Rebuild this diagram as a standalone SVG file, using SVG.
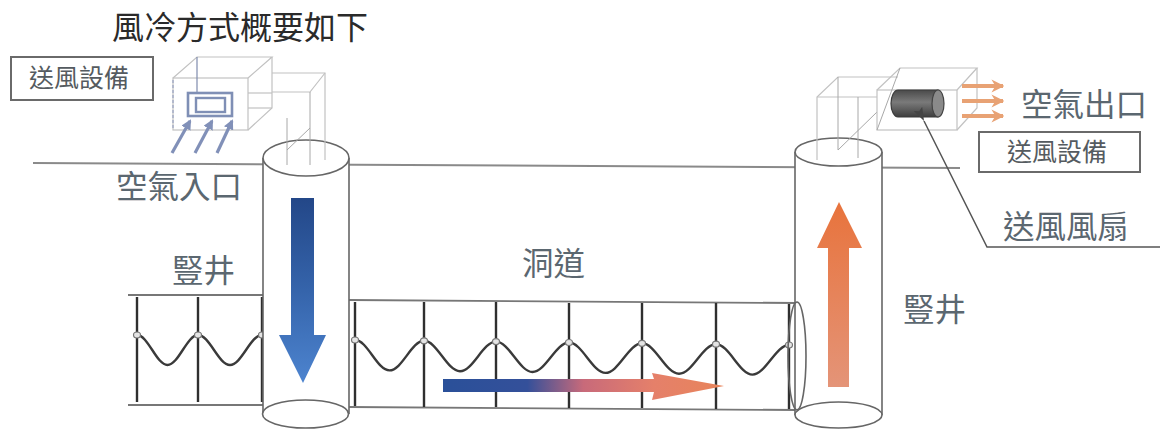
<svg xmlns="http://www.w3.org/2000/svg" width="1169" height="432" viewBox="0 0 1169 432">
  <defs>
    <style>
      .title { font-family: "Noto Sans CJK TC", "Noto Sans CJK SC", sans-serif; font-size: 32px; fill: #2a2a2a; }
      .label { font-family: "Noto Sans CJK TC", "Noto Sans CJK SC", sans-serif; font-size: 31.5px; fill: #5b6770; }
      .boxlabel { font-family: "Noto Sans CJK TC", "Noto Sans CJK SC", sans-serif; font-size: 25px; fill: #555b60; }
      .box { fill: #fff; stroke: #6a6a6a; stroke-width: 2; }
      .wire { fill: none; stroke: #c2c2c2; stroke-width: 1.2; }
      .wire2 { fill: none; stroke: #a8a8a8; stroke-width: 1; }
      .shaft { fill: #fff; stroke: #666; stroke-width: 1.6; }
      .rail { fill: none; stroke: #777; stroke-width: 1.8; }
      .post { fill: none; stroke: #2f2f2f; stroke-width: 2.4; }
      .wave { fill: none; stroke: #3a3a3a; stroke-width: 2.4; }
      .node { fill: #e4e4e4; stroke: #777; stroke-width: 1.2; }
      .inflow { fill: none; stroke: #8190b8; stroke-width: 3.2; }
      .outflow { fill: none; stroke: #e8a274; stroke-width: 4; }
    </style>
    <linearGradient id="gDown" x1="0" y1="0" x2="0" y2="1">
      <stop offset="0" stop-color="#234788"/>
      <stop offset="0.5" stop-color="#3564ab"/>
      <stop offset="1" stop-color="#4d84cf"/>
    </linearGradient>
    <linearGradient id="gUp" x1="0" y1="0" x2="0" y2="1">
      <stop offset="0" stop-color="#e8733c"/>
      <stop offset="1" stop-color="#e49478"/>
    </linearGradient>
    <linearGradient id="gFlow" x1="443" y1="0" x2="724" y2="0" gradientUnits="userSpaceOnUse">
      <stop offset="0" stop-color="#2a5099"/>
      <stop offset="0.3" stop-color="#34509a"/>
      <stop offset="0.5" stop-color="#c86a7a"/>
      <stop offset="0.75" stop-color="#e5806a"/>
      <stop offset="1" stop-color="#e8845a"/>
    </linearGradient>
    <linearGradient id="gFan" x1="0" y1="0" x2="0" y2="1">
      <stop offset="0" stop-color="#4a4a4a"/>
      <stop offset="0.45" stop-color="#7a7a7a"/>
      <stop offset="1" stop-color="#3e3e3e"/>
    </linearGradient>
    <marker id="mIn" viewBox="0 0 10 10" refX="8" refY="5" markerWidth="3.2" markerHeight="3.2" orient="auto">
      <path d="M0,0 L10,5 L0,10 Z" fill="#8190b8"/>
    </marker>
    <marker id="mOut" viewBox="0 0 10 10" refX="9" refY="5" markerWidth="3.2" markerHeight="3.6" orient="auto">
      <path d="M0,0 L10,5 L0,10 L3,5 Z" fill="#e8a274"/>
    </marker>
    <marker id="mLead" viewBox="0 0 10 10" refX="0" refY="5" markerWidth="9" markerHeight="9" orient="auto-start-reverse">
      <path d="M0,5 L10,1.5 L8,5 L10,8.5 Z" fill="#444"/>
    </marker>
  </defs>

  <rect width="1169" height="432" fill="#fff"/>

  <!-- heading -->
  <text class="title" x="112" y="39">風冷方式概要如下</text>

  <!-- ground level -->
  <line x1="33" y1="163" x2="960" y2="168" stroke="#8a8a8a" stroke-width="2"/>

  <!-- left tunnel stub -->
  <g id="tunnel-left">
    <line class="rail" x1="128" y1="295" x2="263" y2="295"/>
    <line class="rail" x1="128" y1="405" x2="263" y2="405"/>
    <line class="post" x1="137" y1="297" x2="137" y2="402"/>
    <line class="post" x1="198" y1="297" x2="198" y2="402"/>
    <line class="post" x1="262" y1="297" x2="262" y2="402"/>
    <path class="wave" d="M137,335 C148,335 156.5,365 167.5,365 C178.5,365 187,335 198,335 C209.5,335 218.5,365 230,365 C241.5,365 250.5,335 262,335"/>
    <ellipse class="node" cx="137" cy="335" rx="3.5" ry="3"/>
    <ellipse class="node" cx="198" cy="335" rx="3.5" ry="3"/>
    <ellipse class="node" cx="262" cy="335" rx="3.5" ry="3"/>
  </g>

  <!-- main tunnel -->
  <g id="tunnel-main">
    <line class="rail" x1="349" y1="300" x2="797" y2="303"/>
    <line class="rail" x1="349" y1="407" x2="797" y2="410"/>
    <line class="post" x1="355" y1="302" x2="355" y2="406"/>
    <line class="post" x1="424" y1="302" x2="424" y2="407"/>
    <line class="post" x1="496" y1="302" x2="496" y2="407"/>
    <line class="post" x1="569" y1="303" x2="569" y2="408"/>
    <line class="post" x1="642" y1="303" x2="642" y2="408"/>
    <line class="post" x1="716" y1="303" x2="716" y2="409"/>
    <line class="post" x1="789" y1="304" x2="789" y2="409"/>
    <path class="wave" d="M355,340 C367.5,340 377,370.4 389.5,370.4 C402,370.4 411.5,340.8 424,340.8 C437,340.8 447,371.2 460,371.2 C473,371.2 483,341.6 496,341.6 C509,341.6 519.5,372 532.5,372 C545.5,372 556,342.5 569,342.5 C582,342.5 592.5,372.9 605.5,372.9 C618.5,372.9 629,343.3 642,343.3 C655.5,343.3 665.5,373.7 679,373.7 C692.5,373.7 702.5,344.2 716,344.2 C729,344.2 739.5,374.6 752.5,374.6 C765.5,374.6 776,345 789,345"/>
    <ellipse class="node" cx="355" cy="340" rx="3.5" ry="3"/>
    <ellipse class="node" cx="424" cy="340.8" rx="3.5" ry="3"/>
    <ellipse class="node" cx="496" cy="341.6" rx="3.5" ry="3"/>
    <ellipse class="node" cx="569" cy="342.5" rx="3.5" ry="3"/>
    <ellipse class="node" cx="642" cy="343.3" rx="3.5" ry="3"/>
    <ellipse class="node" cx="716" cy="344.2" rx="3.5" ry="3"/>
    <ellipse class="node" cx="789" cy="345" rx="3.5" ry="3"/>
    <!-- horizontal airflow -->
    <path d="M443,379 L654,379 L652,373 L724,386 L652,400 L654,392 L443,392 Z" fill="url(#gFlow)"/>
  </g>

  <!-- intake shaft -->
  <g id="shaft-left">
    <rect x="263" y="158" width="86" height="256" fill="#fff"/>
    <line class="shaft" x1="263" y1="158" x2="263" y2="414"/>
    <line class="shaft" x1="349" y1="158" x2="349" y2="414"/>
    <ellipse class="shaft" cx="306" cy="158" rx="43" ry="18"/>
    <ellipse class="shaft" cx="305.5" cy="414" rx="43" ry="14"/>
    <path d="M291,198 L314,198 L314,335 L326,335 L303,383 L279,335 L291,335 Z" fill="url(#gDown)"/>
  </g>

  <!-- exhaust shaft -->
  <g id="shaft-right">
    <rect x="795" y="152" width="87" height="263" fill="#fff"/>
    <line class="shaft" x1="795" y1="152" x2="795" y2="415"/>
    <line class="shaft" x1="882" y1="152" x2="882" y2="415"/>
    <ellipse class="shaft" cx="838.5" cy="152" rx="43.5" ry="14"/>
    <ellipse class="shaft" cx="838.5" cy="415" rx="43.5" ry="13"/>
    <path d="M828,387 L849,387 L849,248 L862,248 L839,202 L817,248 L828,248 Z" fill="url(#gUp)"/>
  </g>

  <!-- end of main tunnel joining the exhaust shaft -->
  <ellipse id="tunnel-end" cx="797" cy="356" rx="9" ry="54" fill="none" stroke="#666" stroke-width="1.6"/>

  <!-- intake air handling unit -->
  <g id="unit-left">
    <!-- housing cube -->
    <rect class="wire" x="173" y="78" width="75" height="52"/>
    <polyline class="wire" points="173,78 197,57 272,57 248,78"/>
    <polyline class="wire" points="272,57 272,108 248,130"/>
    <line class="wire" x1="248" y1="93" x2="272" y2="93"/>
    <line class="wire" x1="248" y1="108" x2="272" y2="108"/>
    <!-- duct elbow into shaft -->
    <polyline class="wire" points="272,73 325,73 325,160"/>
    <polyline class="wire" points="272,92 310,92 325,73"/>
    <line class="wire2" x1="310" y1="92" x2="310" y2="165"/>
    <line class="wire2" x1="287" y1="118" x2="287" y2="165"/>
    <line class="wire2" x1="287" y1="150" x2="310" y2="128"/>
    <line x1="197" y1="57" x2="197" y2="93" stroke="#7f8bad" stroke-width="1.2"/>
    <line x1="173" y1="80" x2="173" y2="128" stroke="#9aa4c4" stroke-width="1.2" stroke-dasharray="3 2"/>
    <!-- filter -->
    <rect x="188" y="93" width="44" height="23" fill="#fff" stroke="#7f8fb5" stroke-width="2.6"/>
    <rect x="196" y="98" width="29" height="14" fill="#fff" stroke="#7f8fb5" stroke-width="2.4"/>
    <!-- incoming air -->
    <line class="inflow" x1="172" y1="153" x2="190" y2="121" marker-end="url(#mIn)"/>
    <line class="inflow" x1="195" y1="153" x2="212" y2="121" marker-end="url(#mIn)"/>
    <line class="inflow" x1="217" y1="153" x2="232" y2="121" marker-end="url(#mIn)"/>
  </g>

  <!-- exhaust air handling unit -->
  <g id="unit-right">
    <!-- duct elbow above shaft -->
    <polyline class="wire" points="817,160 817,97 838,77 898,77"/>
    <line class="wire" x1="817" y1="97" x2="877" y2="97"/>
    <line class="wire2" x1="838" y1="77" x2="838" y2="150"/>
    <line class="wire2" x1="858" y1="97" x2="858" y2="158"/>
    <line class="wire2" x1="838" y1="150" x2="877" y2="112"/>
    <!-- fan housing cube -->
    <rect class="wire" x="877" y="90" width="80" height="40"/>
    <polyline class="wire" points="877,90 900,68 977,68 957,90"/>
    <polyline class="wire" points="977,68 977,108 957,130"/>
    <line class="wire2" x1="900" y1="68" x2="877" y2="130"/>
    <!-- fan -->
    <path d="M898,90 L938,90 L938,117 L898,117 A7,13.5 0 0 1 898,90 Z" fill="url(#gFan)" stroke="#3a3a3a" stroke-width="1.2"/>
    <ellipse cx="938" cy="103.5" rx="6" ry="13.5" fill="#8a8a8a" stroke="#444" stroke-width="1.2"/>
    <!-- outgoing air -->
    <line class="outflow" x1="962" y1="86" x2="1003" y2="86" marker-end="url(#mOut)"/>
    <line class="outflow" x1="962" y1="101" x2="1003" y2="101" marker-end="url(#mOut)"/>
    <line class="outflow" x1="962" y1="116" x2="1003" y2="116" marker-end="url(#mOut)"/>
  </g>

  <!-- callout to the fan -->
  <g id="connectors">
    <polyline points="924,121 987,247 1160,247" fill="none" stroke="#555" stroke-width="1.5" marker-start="url(#mLead)"/>
  </g>

  <!-- labels -->
  <g id="box-left">
    <rect class="box" x="11" y="57" width="142" height="43"/>
    <text class="boxlabel" x="29" y="87">送風設備</text>
  </g>
  <g id="box-right">
    <rect class="box" x="979" y="132" width="161" height="40"/>
    <text class="boxlabel" x="1007" y="161">送風設備</text>
  </g>
  <text id="lbl-intake" class="label" x="116" y="198">空氣入口</text>
  <text id="lbl-shaft-left" class="label" x="172" y="282">豎井</text>
  <text id="lbl-tunnel" class="label" x="522" y="275">洞道</text>
  <text id="lbl-shaft-right" class="label" x="903" y="321">豎井</text>
  <text id="lbl-outlet" class="label" x="1021" y="116">空氣出口</text>
  <text id="lbl-fan" class="label" x="1003" y="238">送風風扇</text>
</svg>
